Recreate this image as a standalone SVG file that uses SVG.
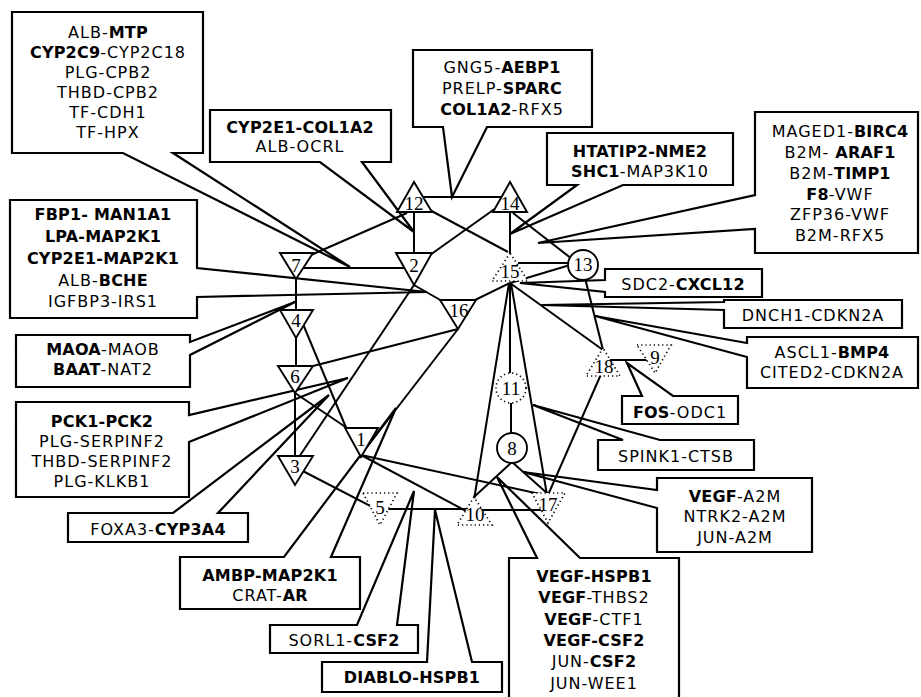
<svg xmlns="http://www.w3.org/2000/svg" width="921" height="697" viewBox="0 0 921 697">
<style>
.e{stroke:#000;stroke-width:2;fill:none}
.bg{fill:#fff;stroke:none}
.box{fill:none;stroke:#000;stroke-width:2.2;stroke-linejoin:miter}
.n{fill:#fff;stroke:#000;stroke-width:1.9}
.nd{fill:#fff;stroke:#000;stroke-width:1.7;stroke-dasharray:1.2 3}
.t{font-family:"DejaVu Sans",sans-serif;font-size:16px;letter-spacing:1px;text-anchor:middle;fill:#000}
.b{font-weight:bold;letter-spacing:0.2px}
.nl{font-family:"Liberation Serif",serif;font-size:19px;text-anchor:middle;fill:#000}
</style>
<rect width="921" height="697" fill="#fff"/>
<g id="edges">
<line class="e" x1="414" y1="197" x2="510" y2="197"/>
<line class="e" x1="414" y1="205" x2="414" y2="265"/>
<line class="e" x1="510" y1="205" x2="510" y2="262"/>
<line class="e" x1="426" y1="208" x2="508" y2="252"/>
<line class="e" x1="496" y1="208" x2="430" y2="255"/>
<line class="e" x1="407" y1="213" x2="311" y2="255"/>
<line class="e" x1="296" y1="268" x2="414" y2="268"/>
<line class="e" x1="296" y1="270" x2="296" y2="320"/>
<line class="e" x1="296" y1="330" x2="296" y2="375"/>
<line class="e" x1="295" y1="385" x2="295" y2="465"/>
<line class="e" x1="303" y1="324" x2="347" y2="430"/>
<line class="e" x1="295" y1="393" x2="350" y2="430"/>
<line class="e" x1="313" y1="366" x2="458" y2="329"/>
<line class="e" x1="414" y1="285" x2="442" y2="301"/>
<line class="e" x1="473" y1="301" x2="510" y2="283"/>
<line class="e" x1="414" y1="285" x2="299" y2="457"/>
<line class="e" x1="458" y1="329" x2="360" y2="456"/>
<line class="e" x1="510" y1="283" x2="570" y2="265"/>
<line class="e" x1="518" y1="263" x2="570" y2="263"/>
<line class="e" x1="513" y1="213" x2="572" y2="259"/>
<line class="e" x1="585" y1="278" x2="603" y2="350"/>
<line class="e" x1="510" y1="283" x2="603" y2="350"/>
<line class="e" x1="510" y1="283" x2="510" y2="375"/>
<line class="e" x1="511" y1="400" x2="511" y2="435"/>
<line class="e" x1="509" y1="283" x2="474" y2="500"/>
<line class="e" x1="511" y1="283" x2="547" y2="495"/>
<line class="e" x1="605" y1="360" x2="650" y2="360"/>
<line class="e" x1="602" y1="372" x2="548" y2="495"/>
<line class="e" x1="512" y1="462" x2="474" y2="497"/>
<line class="e" x1="512" y1="462" x2="548" y2="494"/>
<line class="e" x1="361" y1="455" x2="466" y2="511"/>
<line class="e" x1="361" y1="455" x2="540" y2="494"/>
<line class="e" x1="297" y1="468" x2="380" y2="511"/>
<line class="e" x1="385" y1="509" x2="470" y2="509"/>
<line class="e" x1="480" y1="510" x2="545" y2="510"/>
</g>
<g id="c-albmtp">
<rect class="bg" x="12" y="12" width="191" height="141"/>
<path class="box" d="M12,12H203V153H173L350,267L123,153H12Z"/>
<text class="t" x="108"><tspan x="108" y="38">ALB-<tspan class="b">MTP</tspan></tspan><tspan x="108" y="58"><tspan class="b">CYP2C9</tspan>-CYP2C18</tspan><tspan x="108" y="78">PLG-CPB2</tspan><tspan x="108" y="98">THBD-CPB2</tspan><tspan x="108" y="118">TF-CDH1</tspan><tspan x="108" y="138">TF-HPX</tspan></text>
</g>
<g id="c-cyp2e1">
<rect class="bg" x="210" y="110" width="181" height="52"/>
<path class="box" d="M210,110H391V162H362L414,232L320,162H210Z"/>
<text class="t"><tspan x="300" y="133" class="b">CYP2E1-COL1A2</tspan><tspan x="300" y="152">ALB-OCRL</tspan></text>
</g>
<g id="c-gng5">
<rect class="bg" x="413" y="50" width="179" height="77"/>
<path class="box" d="M413,50H592V127H487L452,197L443,127H413Z"/>
<text class="t"><tspan x="502" y="73">GNG5-<tspan class="b">AEBP1</tspan></tspan><tspan x="502" y="94">PRELP-<tspan class="b">SPARC</tspan></tspan><tspan x="502" y="115"><tspan class="b">COL1A2</tspan>-RFX5</tspan></text>
</g>
<g id="c-htatip2">
<rect class="bg" x="547" y="133" width="186" height="52"/>
<path class="box" d="M547,133H733V185H623L510,234L577,185H547Z"/>
<text class="t"><tspan x="640" y="157" class="b">HTATIP2-NME2</tspan><tspan x="640" y="177"><tspan class="b">SHC1</tspan>-MAP3K10</tspan></text>
</g>
<g id="c-maged1">
<rect class="bg" x="755" y="112" width="163" height="141"/>
<path class="box" d="M755,112H918V253H755V229L538,243L755,195Z"/>
<text class="t"><tspan x="840" y="137">MAGED1-<tspan class="b">BIRC4</tspan></tspan><tspan x="840" y="158">B2M- <tspan class="b">ARAF1</tspan></tspan><tspan x="840" y="179">B2M-<tspan class="b">TIMP1</tspan></tspan><tspan x="840" y="200"><tspan class="b">F8</tspan>-VWF</tspan><tspan x="840" y="220">ZFP36-VWF</tspan><tspan x="840" y="241">B2M-RFX5</tspan></text>
</g>
<g id="c-sdc2">
<rect class="bg" x="605" y="269" width="157" height="28"/>
<path class="box" d="M605,269H762V297H605V292L520,283L605,280Z"/>
<text class="t" x="683" y="290">SDC2-<tspan class="b">CXCL12</tspan></text>
</g>
<g id="c-dnch1">
<rect class="bg" x="724" y="300" width="178" height="28"/>
<path class="box" d="M724,300H902V328H724V310L541,305L724,302Z"/>
<text class="t" x="813" y="321">DNCH1-CDKN2A</text>
</g>
<g id="c-ascl1">
<rect class="bg" x="747" y="337" width="171" height="51"/>
<path class="box" d="M747,337H918V388H747V357L595,316L747,343Z"/>
<text class="t"><tspan x="832" y="358">ASCL1-<tspan class="b">BMP4</tspan></tspan><tspan x="832" y="378">CITED2-CDKN2A</tspan></text>
</g>
<g id="c-fos">
<rect class="bg" x="622" y="396" width="116" height="28"/>
<path class="box" d="M622,396H642L627,363L673,396H738V424H622Z"/>
<text class="t" x="680" y="418"><tspan class="b">FOS</tspan>-ODC1</text>
</g>
<g id="c-spink1">
<rect class="bg" x="598" y="440" width="156" height="30"/>
<path class="box" d="M598,440H623L533,405L660,440H754V470H598Z"/>
<text class="t" x="676" y="462">SPINK1-CTSB</text>
</g>
<g id="c-vegfa2m">
<rect class="bg" x="657" y="478" width="155" height="74"/>
<path class="box" d="M657,478H812V552H657V508L523,472L657,490Z"/>
<text class="t"><tspan x="735" y="502"><tspan class="b">VEGF</tspan>-A2M</tspan><tspan x="735" y="522">NTRK2-A2M</tspan><tspan x="735" y="543">JUN-A2M</tspan></text>
</g>
<g id="c-vegfhspb1">
<rect class="bg" x="509" y="558" width="170" height="142"/>
<path class="box" d="M509,558H537L497,477L580,558H679V700H509Z"/>
<text class="t"><tspan x="594" y="582" class="b">VEGF-HSPB1</tspan><tspan x="594" y="603"><tspan class="b">VEGF</tspan>-THBS2</tspan><tspan x="594" y="625"><tspan class="b">VEGF</tspan>-CTF1</tspan><tspan x="594" y="646" class="b">VEGF-CSF2</tspan><tspan x="594" y="667">JUN-<tspan class="b">CSF2</tspan></tspan><tspan x="594" y="689">JUN-WEE1</tspan></text>
</g>
<g id="c-diablo">
<rect class="bg" x="322" y="662" width="180" height="30"/>
<path class="box" d="M322,662H427L435,510L472,662H502V692H322Z"/>
<text class="t b" x="412" y="683">DIABLO-HSPB1</text>
</g>
<g id="c-sorl1">
<rect class="bg" x="270" y="625" width="148" height="28"/>
<path class="box" d="M270,625H357L414,491L397,625H418V653H270Z"/>
<text class="t" x="344" y="646">SORL1-<tspan class="b">CSF2</tspan></text>
</g>
<g id="c-ambp">
<rect class="bg" x="180" y="557" width="180" height="52"/>
<path class="box" d="M180,557H284L396,408L331,557H360V609H180Z"/>
<text class="t"><tspan x="270" y="581" class="b">AMBP-MAP2K1</tspan><tspan x="270" y="601">CRAT-<tspan class="b">AR</tspan></tspan></text>
</g>
<g id="c-foxa3">
<rect class="bg" x="68" y="513" width="180" height="29"/>
<path class="box" d="M68,513H173L329,395L218,513H248V542H68Z"/>
<text class="t" x="158" y="535">FOXA3-<tspan class="b">CYP3A4</tspan></text>
</g>
<g id="c-pck1">
<rect class="bg" x="16" y="402" width="173" height="95"/>
<path class="box" d="M16,402H189V415L348,378L189,442V497H16Z"/>
<text class="t"><tspan x="102" y="427" class="b">PCK1-PCK2</tspan><tspan x="102" y="447">PLG-SERPINF2</tspan><tspan x="102" y="467">THBD-SERPINF2</tspan><tspan x="102" y="487">PLG-KLKB1</tspan></text>
</g>
<g id="c-maoa">
<rect class="bg" x="16" y="335" width="174" height="52"/>
<path class="box" d="M16,335H190V342L295,302L190,355V387H16Z"/>
<text class="t"><tspan x="103" y="355"><tspan class="b">MAOA</tspan>-MAOB</tspan><tspan x="103" y="375"><tspan class="b">BAAT</tspan>-NAT2</tspan></text>
</g>
<g id="c-fbp1">
<rect class="bg" x="10" y="200" width="187" height="118"/>
<path class="box" d="M10,200H197V268L427,292L197,297V318H10Z"/>
<text class="t"><tspan x="103" y="220" class="b">FBP1- MAN1A1</tspan><tspan x="103" y="242" class="b">LPA-MAP2K1</tspan><tspan x="103" y="264" class="b">CYP2E1-MAP2K1</tspan><tspan x="103" y="286">ALB-<tspan class="b">BCHE</tspan></tspan><tspan x="103" y="307">IGFBP3-IRS1</tspan></text>
</g>
<g id="n12"><polygon class="n" points="414,182 397,212 432,212"/><text class="nl" x="414" y="210">12</text></g>
<g id="n14"><polygon class="n" points="510,182 493,212 527,212"/><text class="nl" x="510" y="210">14</text></g>
<g id="n7"><polygon class="n" points="280,253 313,253 296,279"/><text class="nl" x="296" y="272">7</text></g>
<g id="n2"><polygon class="n" points="396,253 432,253 414,285"/><text class="nl" x="414" y="272">2</text></g>
<g id="n15"><polygon class="nd" points="510,253 492,281 528,281"/><text class="nl" x="510" y="278">15</text></g>
<g id="n13"><circle class="n" cx="583" cy="265" r="15"/><text class="nl" x="583" y="271">13</text></g>
<g id="n16"><polygon class="n" points="440,300 476,300 458,329"/><text class="nl" x="459" y="317">16</text></g>
<g id="n4"><polygon class="n" points="280,310 313,310 296,338"/><text class="nl" x="296" y="327">4</text></g>
<g id="n6"><polygon class="n" points="278,366 313,366 295,393"/><text class="nl" x="295" y="383">6</text></g>
<g id="n1"><polygon class="n" points="345,428 378,428 361,457"/><text class="nl" x="361" y="446">1</text></g>
<g id="n3"><polygon class="n" points="278,456 313,456 295,485"/><text class="nl" x="295" y="473">3</text></g>
<g id="n11"><circle class="nd" cx="511" cy="388" r="15"/><text class="nl" x="511" y="395">11</text></g>
<g id="n8"><circle class="n" cx="512" cy="448" r="15"/><text class="nl" x="512" y="455">8</text></g>
<g id="n18"><polygon class="nd" points="603,348 586,376 620,376"/><text class="nl" x="604" y="373">18</text></g>
<g id="n9"><polygon class="nd" points="637,345 671,345 655,373"/><text class="nl" x="655" y="364">9</text></g>
<g id="n5"><polygon class="nd" points="363,493 397,493 380,525"/><text class="nl" x="380" y="514">5</text></g>
<g id="n10"><polygon class="nd" points="474,497 457,525 492,525"/><text class="nl" x="475" y="521">10</text></g>
<g id="n17"><polygon class="nd" points="532,493 565,493 548,523"/><text class="nl" x="548" y="511">17</text></g>
</svg>
